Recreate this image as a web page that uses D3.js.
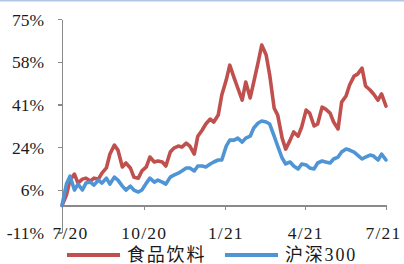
<!DOCTYPE html>
<html>
<head>
<meta charset="utf-8">
<script src="https://cdn.jsdelivr.net/npm/d3@7"></script>
<style>
  body { margin: 0; background: #fff; }
  svg { display: block; }
  .axis path, .axis line { stroke: #8a8a8a; stroke-width: 1.3; shape-rendering: crispEdges; }
  .axis text { font-family: "Liberation Serif", "Times New Roman", serif; font-size: 17.5px; fill: #1a1a1a; }
  .legend text { font-family: "Liberation Serif", "Noto Sans CJK SC", serif; font-size: 18px; fill: #1a1a1a; letter-spacing: 1.8px; }
</style>
</head>
<body>
<div id="chart"></div>
<script>
// dates of the samples
var dates = ["2020-07-01","2020-07-06","2020-07-10","2020-07-15","2020-07-19","2020-07-24","2020-07-28",
             "2020-08-02","2020-08-06","2020-08-11","2020-08-15","2020-08-20","2020-08-24","2020-08-29",
             "2020-09-02","2020-09-07","2020-09-11","2020-09-16","2020-09-20","2020-09-25","2020-09-29",
             "2020-10-04","2020-10-08","2020-10-13","2020-10-17","2020-10-22","2020-10-26","2020-10-31",
             "2020-11-04","2020-11-09","2020-11-13","2020-11-18","2020-11-22","2020-11-27",
             "2020-12-01","2020-12-06","2020-12-10","2020-12-15","2020-12-19","2020-12-24","2020-12-28",
             "2021-01-02","2021-01-06","2021-01-11","2021-01-15","2021-01-20","2021-01-24","2021-01-29",
             "2021-02-02","2021-02-07","2021-02-11","2021-02-16","2021-02-20","2021-02-25",
             "2021-03-01","2021-03-06","2021-03-10","2021-03-15","2021-03-19","2021-03-24","2021-03-28",
             "2021-04-02","2021-04-06","2021-04-11","2021-04-15","2021-04-20","2021-04-24","2021-04-29",
             "2021-05-03","2021-05-08","2021-05-12","2021-05-17","2021-05-21","2021-05-26","2021-05-30",
             "2021-06-04","2021-06-08","2021-06-13","2021-06-17","2021-06-22","2021-06-26","2021-07-01"];

// cumulative return, %
var food = [0.0, 4.2, 10.2, 12.6, 9.0, 10.6, 11.0, 9.8, 11.0, 10.6,
            13.0, 15.1, 20.7, 24.3, 22.3, 15.5, 17.1, 15.1, 11.4, 11.0,
            13.9, 15.5, 19.5, 17.5, 17.9, 17.5, 15.9, 21.5, 23.1, 23.9,
            23.5, 25.1, 23.9, 20.7, 27.9, 30.4, 32.8, 34.8, 33.6, 36.4,
            44.5, 50.5, 56.5, 51.3, 47.3, 42.4, 49.7, 43.3, 49.7, 57.7,
            64.6, 60.6, 52.5, 39.2, 36.4, 27.1, 22.7, 26.3, 29.6, 27.9,
            31.6, 38.4, 37.2, 32.0, 32.8, 39.6, 38.8, 37.2, 33.6, 30.8,
            41.6, 44.1, 48.5, 52.1, 52.9, 55.3, 48.1, 46.5, 44.9, 42.4,
            44.9, 40.0];

var hs300 = [0.0, 8.6, 11.8, 6.2, 8.6, 6.2, 9.0, 9.4, 8.2, 10.2,
             9.0, 11.0, 8.6, 11.4, 10.2, 7.8, 6.2, 7.8, 6.2, 5.4,
             6.2, 9.0, 11.0, 9.4, 10.2, 9.4, 8.6, 11.4, 12.2, 13.0,
             13.9, 15.1, 15.1, 13.9, 15.9, 15.9, 15.5, 16.7, 17.5, 18.3,
             18.3, 23.9, 26.3, 26.3, 27.1, 25.5, 27.1, 27.9, 31.2, 33.2,
             34.0, 33.6, 32.8, 27.9, 23.9, 19.1, 16.7, 17.5, 15.9, 14.7,
             16.7, 16.3, 15.1, 14.7, 17.1, 17.9, 17.5, 17.1, 18.7, 19.5,
             21.5, 22.7, 22.3, 21.5, 20.3, 18.7, 19.5, 20.3, 19.9, 18.3,
             20.7, 18.3];

var seriesNames = ["食品饮料", "沪深300"];

// axis ticks
var yTickValues = [-10.9, 6.3, 23.5, 40.7, 57.9, 75.1];
var yTickLabels = ["-11%", "6%", "24%", "41%", "58%", "75%"];
var xTickDates = ["2020-07-01", "2020-10-01", "2021-01-01", "2021-04-01", "2021-07-01"];
var xTickLabels = ["7/20", "10/20", "1/21", "4/21", "7/21"];

function main()
{
    var W = 404, H = 264;
    var parse = d3.timeParse("%Y-%m-%d");
    var color = d3.scaleOrdinal().domain(seriesNames).range(["#c0504d", "#4f95d6"]);

    var svg = d3.select("#chart").append("svg")
        .attr("width", W).attr("height", H);

    svg.append("rect").attr("width", W).attr("height", H).attr("fill", "#fff");
    // thin frame line on top
    svg.append("line").attr("x1", 0).attr("x2", W).attr("y1", 0.75).attr("y2", 0.75)
        .attr("stroke", "#b4c6e4").attr("stroke-width", 1.5);

    var x = d3.scaleTime()
        .domain([parse(xTickDates[0]), parse(xTickDates[xTickDates.length - 1])])
        .range([62, 386]);
    var y = d3.scaleLinear()
        .domain([yTickValues[0], yTickValues[yTickValues.length - 1]])
        .range([232.5, 19]);

    // y axis
    var yAxis = svg.append("g").attr("class", "axis")
        .attr("transform", "translate(62,0)")
        .call(d3.axisLeft(y).tickValues(yTickValues).tickSize(4).tickSizeOuter(0).tickPadding(14)
            .tickFormat(function(d, i) { return yTickLabels[i]; }));
    yAxis.selectAll("text").attr("dy", "0.35em");

    // x axis crosses at 0, labels sit low
    var xAxis = svg.append("g").attr("class", "axis")
        .attr("transform", "translate(0," + y(0) + ")")
        .call(d3.axisBottom(x).tickValues(xTickDates.map(parse)).tickSize(5).tickSizeOuter(0)
            .tickFormat(function(d, i) { return xTickLabels[i]; }));
    var last = xTickLabels.length - 1;
    xAxis.selectAll("text")
        .attr("y", y(yTickValues[0]) - y(0))
        .attr("dy", "0.35em")
        .style("letter-spacing", "1.2px")
        // end labels are pushed inside like excel does
        .attr("text-anchor", function(d, i) { return i == 0 ? "start" : (i == last ? "end" : "middle"); })
        .attr("dx", function(d, i) { return i == 0 ? -10 : (i == last ? 15 : 0); });

    var line = d3.line()
        .x(function(d) { return x(d.date); })
        .y(function(d) { return y(d.value); });

    var series = [food, hs300].map(function(vals, s) {
        return { name: seriesNames[s], values: vals.map(function(v, i) { return { date: parse(dates[i]), value: v }; }) };
    });

    svg.selectAll(".series")
        .data(series)
        .enter().append("path")
        .attr("class", "series")
        .attr("fill", "none")
        .attr("stroke", function(d) { return color(d.name); })
        .attr("stroke-width", 3.6)
        .attr("stroke-linejoin", "round")
        .attr("stroke-linecap", "round")
        .attr("d", function(d) { return line(d.values); });

    // legend
    var legend = svg.append("g").attr("class", "legend");
    var lg = legend.selectAll("g")
        .data(seriesNames)
        .enter().append("g")
        .attr("transform", function(d, i) { return "translate(" + (67 + i * 158) + ",255)"; });
    lg.append("line")
        .attr("x1", 0).attr("x2", 53)
        .attr("stroke", function(d) { return color(d); })
        .attr("stroke-width", 4);
    lg.append("text")
        .attr("x", 60).attr("dy", "0.36em")
        .text(function(d) { return d; });
}
main();
</script>
</body>
</html>
